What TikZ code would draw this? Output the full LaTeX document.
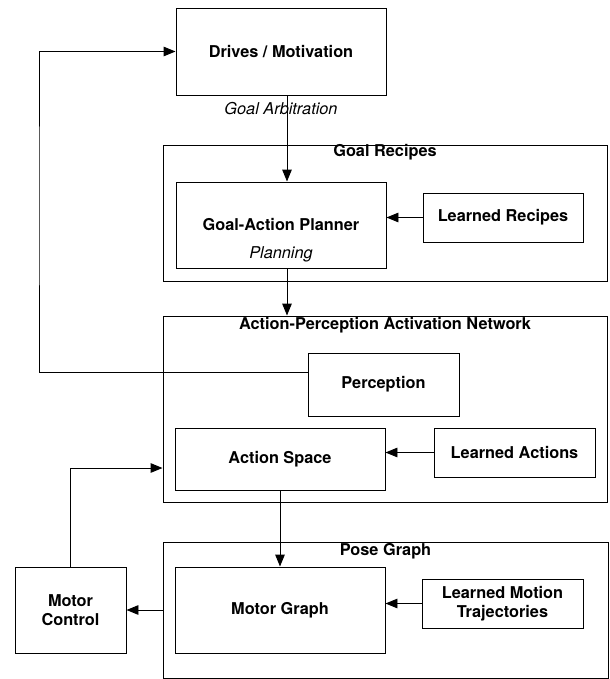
\documentclass[tikz,border=0pt]{standalone}
\usepackage{fontspec}
\setmainfont{TeX Gyre Heros}
\usetikzlibrary{arrows.meta}

\newcommand{\diafont}{\fontsize{11.6}{13.5}\selectfont}

\begin{document}
\begin{tikzpicture}[
  line width=0.7pt,
  block/.style={rectangle, draw, minimum width=5.25cm, minimum height=2.15cm, font=\diafont\bfseries, align=center, inner sep=0pt},
  small/.style={block, minimum width=4.0cm, minimum height=1.225cm},
  group/.style={rectangle, draw, minimum width=11.1cm, inner sep=0pt},
  grouptitle/.style={font=\diafont\bfseries, inner sep=0pt},
  note/.style={font=\diafont\itshape, inner sep=0pt},
  arrow/.style={->, >={Triangle[length=3mm,width=2.4mm]}}
]
\useasboundingbox (0,0) rectangle (15.25,-16.975);

% Drives at top
\node[block, minimum height=2.175cm] (drives) at (7.025,-1.2875) {Drives / Motivation};
\node[note] (arbitration) at (7.025,-2.725) {Goal Arbitration};

% Goal recipes
\node[group, minimum height=3.4cm] (recipes) at (9.625,-5.325) {};
\node[grouptitle] (recipestitle) at ([yshift=-0.2cm]recipes.north) {Goal Recipes};
\node[block] (planner) at (7.025,-5.625) {Goal-Action Planner};
\node[note] (planning) at (7.025,-6.35) {Planning};
\node[small] (lrecipes) at (12.575,-5.4375) {Learned Recipes};

% Action-perception network
\node[group, minimum height=4.65cm] (apan) at (9.625,-10.225) {};
\node[grouptitle] (apantitle) at ([yshift=-0.25cm]apan.north) {Action-Perception Activation Network};
\node[block, minimum width=3.775cm, minimum height=1.575cm] (perception) at (9.5875,-9.6125) {Perception};
\node[block, minimum height=1.55cm] (actspace) at (7.0,-11.475) {Action Space};
\node[small, minimum width=4.025cm] (lactions) at (12.8625,-11.3125) {Learned Actions};

% Pose graph
\node[group, minimum width=11.125cm, minimum height=3.4cm] (pose) at (9.6375,-15.25) {};
\node[grouptitle] (posetitle) at ([yshift=-0.25cm]pose.north) {Pose Graph};
\node[block] (motorgraph) at (7.0,-15.25) {Motor Graph};
\node[small, minimum width=4.025cm] (lmotion) at (12.5625,-15.0875) {Learned Motion\\Trajectories};
\node[block, minimum width=2.775cm] (motorctl) at (1.7625,-15.25) {Motor\\Control};

% Helper points
\coordinate (fbk) at (0.975,-5);
\coordinate (apanin) at ([yshift=-1.475cm]apan.west);

% Top-down flow
\draw[arrow] ([xshift=0.15cm]drives.south) -- ([xshift=0.15cm]planner.north);
\draw[arrow] ([xshift=0.15cm]planner.south) -- ([xshift=0.15cm]planner.south |- apan.north);
\draw[arrow] (actspace.south) -- (motorgraph.north);

% Learned inputs
\draw[arrow] (lrecipes.west) -- (lrecipes.west -| planner.east);
\draw[arrow] (lactions.west) -- (lactions.west -| actspace.east);
\draw[arrow] (lmotion.west) -- (lmotion.west -| motorgraph.east);

% Motor loop
\draw[arrow] (pose.west |- motorctl.east) -- (motorctl.east);
\draw[arrow] (motorctl.north) |- (apanin);

% Perception feedback
\draw[arrow] ([yshift=0.3125cm]perception.west) -| (fbk) |- (drives.west);

\end{tikzpicture}
\end{document}
